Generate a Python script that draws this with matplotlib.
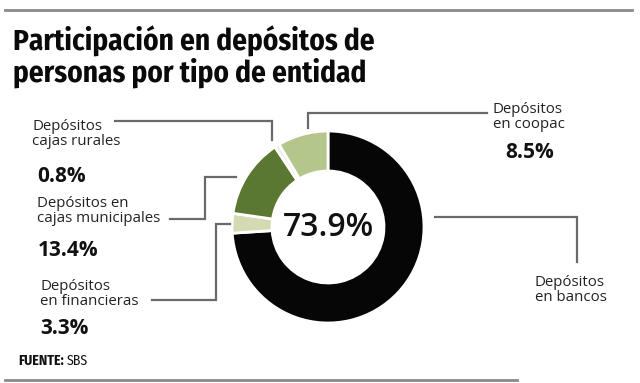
import matplotlib
matplotlib.use("Agg")
from matplotlib import pyplot as plt

# datos (SBS)
entidades = ["Depósitos\nen bancos", "Depósitos\nen financieras", "Depósitos en\ncajas municipales",
             "Depósitos\ncajas rurales", "Depósitos\nen coopac"]
porcentajes = [73.9, 3.3, 13.4, 0.8, 8.5]
colores = ["#060606", "#d5dab3", "#5b7832", "#ecece6", "#b4c68c"]

W, H = 640, 383
LINE = "#6a6a6a"
SANS = ["Open Sans", "DejaVu Sans"]
NARROW = ["Fira Sans Condensed", "DejaVu Sans"]


def Y(y):
    return H - y


fig = plt.figure(figsize=(W / 100, H / 100), dpi=100)
ax = fig.add_axes([0, 0, 1, 1])

cx, cy, r = 328, 227, 96
ax.pie(porcentajes, colors=colores, startangle=90, counterclock=False,
       center=(cx, Y(cy)), radius=r, frame=True,
       wedgeprops=dict(width=40, edgecolor="white", linewidth=2))
ax.set_xlim(0, W)
ax.set_ylim(0, H)
ax.set_aspect("equal")
ax.axis("off")

ax.text(cx + 1, Y(cy), "{0}%".format(porcentajes[0]), ha="center", va="center",
        fontsize=23, fontweight="semibold", family=SANS, color="#111111")

# reglas superior e inferior
ax.plot([5, 632], [Y(10), Y(10)], color="#8a8a8a", lw=2)
ax.plot([5, 517], [Y(380), Y(380)], color="#8a8a8a", lw=2)

ax.text(13, Y(57), "Participación en depósitos de\npersonas por tipo de entidad",
        ha="left", va="center", fontsize=21, fontweight="bold", family=NARROW,
        linespacing=1.05, color="#0a0a0a")

# lineas guia
guias = [
    ([435, 577, 577], [217, 217, 262]),           # bancos
    ([152, 216, 216, 230], [300, 300, 224, 224]),  # financieras
    ([170, 205, 205, 236], [219, 219, 177, 177]),  # municipales
    ([115, 272, 272], [121, 121, 140]),            # rurales
    ([308, 308, 487], [128, 113, 113]),            # coopac
]
for xs, ys in guias:
    ax.plot(xs, [Y(v) for v in ys], color=LINE, lw=1.6, solid_joinstyle="miter")

# etiquetas
pos = [
    (535, 290, 533, None),
    (40, 294, 40, 328),
    (37, 211, 38, 251),
    (32, 134, 37, 177),
    (493, 117, 505, 152),
]
for i in range(len(entidades)):
    tx, ty, px, py = pos[i]
    ax.text(tx, Y(ty), entidades[i], ha="left", va="center", fontsize=10.8,
            family=SANS, color="#222222", linespacing=1.0)
    if py is not None:
        ax.text(px, Y(py), "{0}%".format(porcentajes[i]), ha="left", va="center",
                fontsize=15, fontweight="bold", family=SANS, color="#111111")

fuente = ax.text(18, Y(361), "FUENTE:", ha="left", va="center", fontsize=10,
                 fontweight="bold", family=NARROW, color="#111111")
ax.annotate("SBS", xy=(1, 0.5), xycoords=fuente, xytext=(2, 0),
            textcoords="offset points", ha="left", va="center", fontsize=10,
            family=NARROW, color="#111111")

fig.savefig("out.png", dpi=100, facecolor="white")
